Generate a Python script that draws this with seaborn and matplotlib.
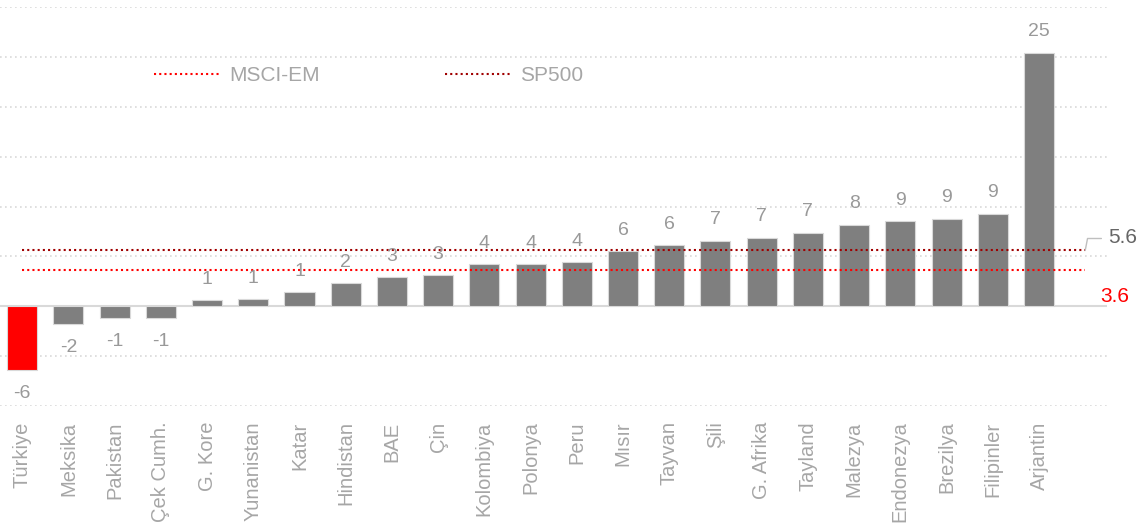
import pandas as pd
import matplotlib
matplotlib.use('Agg')
import matplotlib.pyplot as plt
import seaborn as sns

countries = ['Türkiye', 'Meksika', 'Pakistan', 'Çek Cumh.', 'G. Kore', 'Yunanistan', 'Katar',
             'Hindistan', 'BAE', 'Çin', 'Kolombiya', 'Polonya', 'Peru', 'Mısır', 'Tayvan', 'Şili',
             'G. Afrika', 'Tayland', 'Malezya', 'Endonezya', 'Brezilya', 'Filipinler', 'Arjantin']
values = [-6.4, -1.8, -1.2, -1.2, 0.6, 0.7, 1.4, 2.3, 2.9, 3.1, 4.2, 4.2, 4.4, 5.52, 6.1, 6.6,
          6.9, 7.4, 8.2, 8.55, 8.8, 9.3, 25.4]
msci_em = 3.6
sp500 = 5.6

df = pd.DataFrame({'country': countries, 'value': values})
bar_colors = ['#FF0000' if c == 'Türkiye' else '#7F7F7F' for c in countries]

sns.set_style('white')
plt.rcParams['font.family'] = ['Liberation Sans', 'DejaVu Sans']

fig = plt.figure(figsize=(11.4, 5.31), dpi=100)
ax = fig.add_axes([0.0, 0.235, 0.971, 0.752])

# grid lines
for g in range(-10, 31, 5):
    if g == 0:
        ax.axhline(0, color='#D9D9D9', lw=1.5, zorder=1)
    else:
        ax.axhline(g, color='#D9D9D9', lw=1.2, ls=(0, (1, 2)), zorder=0)

sns.barplot(data=df, x='country', y='value', hue='country', palette=bar_colors,
            saturation=1, legend=False, width=0.65, edgecolor='#D9D9D9', linewidth=0.8,
            ax=ax, zorder=2)

ax.plot([0, 23], [msci_em, msci_em], color='#FF0000', lw=1.5, ls=(0, (1, 1.5)),
        label='MSCI-EM', zorder=3)
ax.plot([0, 23], [sp500, sp500], color='#A00000', lw=1.5, ls=(0, (1, 1.5)),
        label='SP500', zorder=3)

for i, v in enumerate(values):
    off = 15 if v >= 0 else -17
    ax.annotate(f'{round(v):d}', (i, v), xytext=(0, off), textcoords='offset points',
                ha='center', va='center', fontsize=14, color='#999999')

# right-side labels for the reference lines
ax.plot([23, 23.05, 23.35], [sp500, sp500 + 1.2, sp500 + 1.2], color='#BFBFBF', lw=1,
        clip_on=False)
ax.text(23.5, sp500 + 1.3, f'{sp500}', fontsize=15, color='#666666', va='center', ha='left')
ax.text(23.33, msci_em - 2.6, f'{msci_em}', fontsize=15, color='#FF0000', va='center', ha='left')

ax.set_xlim(-0.48, 23.47)
ax.set_ylim(-10, 30)
ax.set_yticks([])
ax.set_xlabel('')
ax.set_ylabel('')
ax.tick_params(axis='x', length=0, pad=11, labelsize=14.5, labelcolor='#A6A6A6', rotation=90)
sns.despine(ax=ax, left=True, bottom=True)

leg = ax.legend(loc='upper left', bbox_to_anchor=(0.1395, 0.852), ncol=2, frameon=False,
                fontsize=15, handlelength=3.1, handletextpad=0.5, columnspacing=6.0,
                borderaxespad=0, borderpad=0)
for t in leg.get_texts():
    t.set_color('#A6A6A6')

fig.savefig('out.png', dpi=100)
